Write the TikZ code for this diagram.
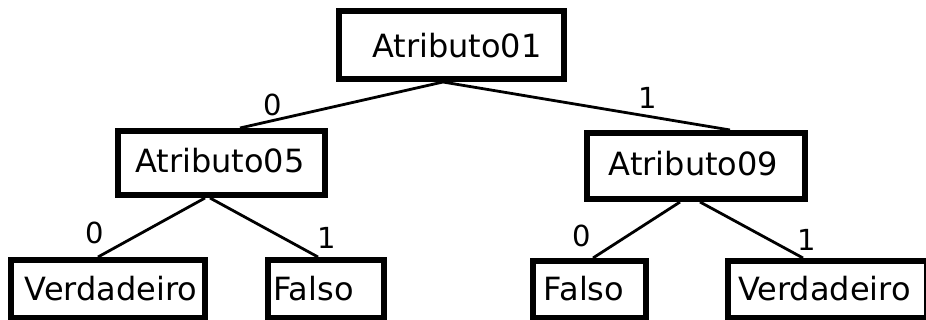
\documentclass[tikz,border=0pt]{standalone}
\usepackage{fontspec}
\setmainfont{DejaVu Sans}
\begin{document}
\begin{tikzpicture}[x=1pt,y=-1pt,
  box/.style={draw=black, line width=6pt, inner sep=0pt, fill=white},
  txt/.style={inner sep=0pt, font=\fontsize{32}{37}\selectfont},
  elab/.style={inner sep=0pt, font=\fontsize{29}{34}\selectfont},
  edge/.style={draw=black, line width=2.8pt}]
\useasboundingbox (0,0) rectangle (926,320);
% boxes
\node[box, minimum width=225pt, minimum height=68pt] (root) at (451.5,45) {};
\node[box, minimum width=207pt, minimum height=64pt] (a05) at (221.5,163) {};
\node[box, minimum width=218pt, minimum height=66pt] (a09) at (696,166) {};
\node[box, minimum width=194pt, minimum height=58pt] (vl) at (108,289) {};
\node[box, minimum width=116pt, minimum height=58pt] (fl) at (326,289) {};
\node[box, minimum width=113pt, minimum height=57pt] (fr) at (589.5,289.5) {};
\node[box, minimum width=199pt, minimum height=57pt] (vr) at (827.5,289.5) {};
% texts
\node[txt] (roott) at (457,46) {Atributo01};
\node[txt] (a05t) at (220,161) {Atributo05};
\node[txt] (a09t) at (693.5,164) {Atributo09};
\node[txt] (vlt) at (111,289) {Verdadeiro};
\node[txt] (flt) at (313.5,289) {Falso};
\node[txt] (frt) at (584,289) {Falso};
\node[txt] (vrt) at (824.5,289) {Verdadeiro};
% edges
\draw[edge] ([xshift=-8.5pt]root.south) -- ([xshift=18.5pt]a05.north);
\draw[edge] ([xshift=-8.5pt]root.south) -- ([xshift=34pt]a09.north);
\draw[edge] ([xshift=-16.5pt]a05.south) -- ([xshift=-10pt]vl.north);
\draw[edge] ([xshift=-11.5pt]a05.south) -- ([xshift=-8pt]fl.north);
\draw[edge] ([xshift=-16pt]a09.south) -- ([xshift=3.5pt]fr.north);
\draw[edge] ([xshift=4pt]a09.south) -- ([xshift=-24.5pt]vr.north);
% edge labels
\node[elab] (l1) at (273,105) {0};
\node[elab] (l2) at (648,98) {1};
\node[elab] (l3) at (95,233) {0};
\node[elab] (l4) at (327,238) {1};
\node[elab] (l5) at (582,236) {0};
\node[elab] (l6) at (807,240) {1};
\end{tikzpicture}
\end{document}
